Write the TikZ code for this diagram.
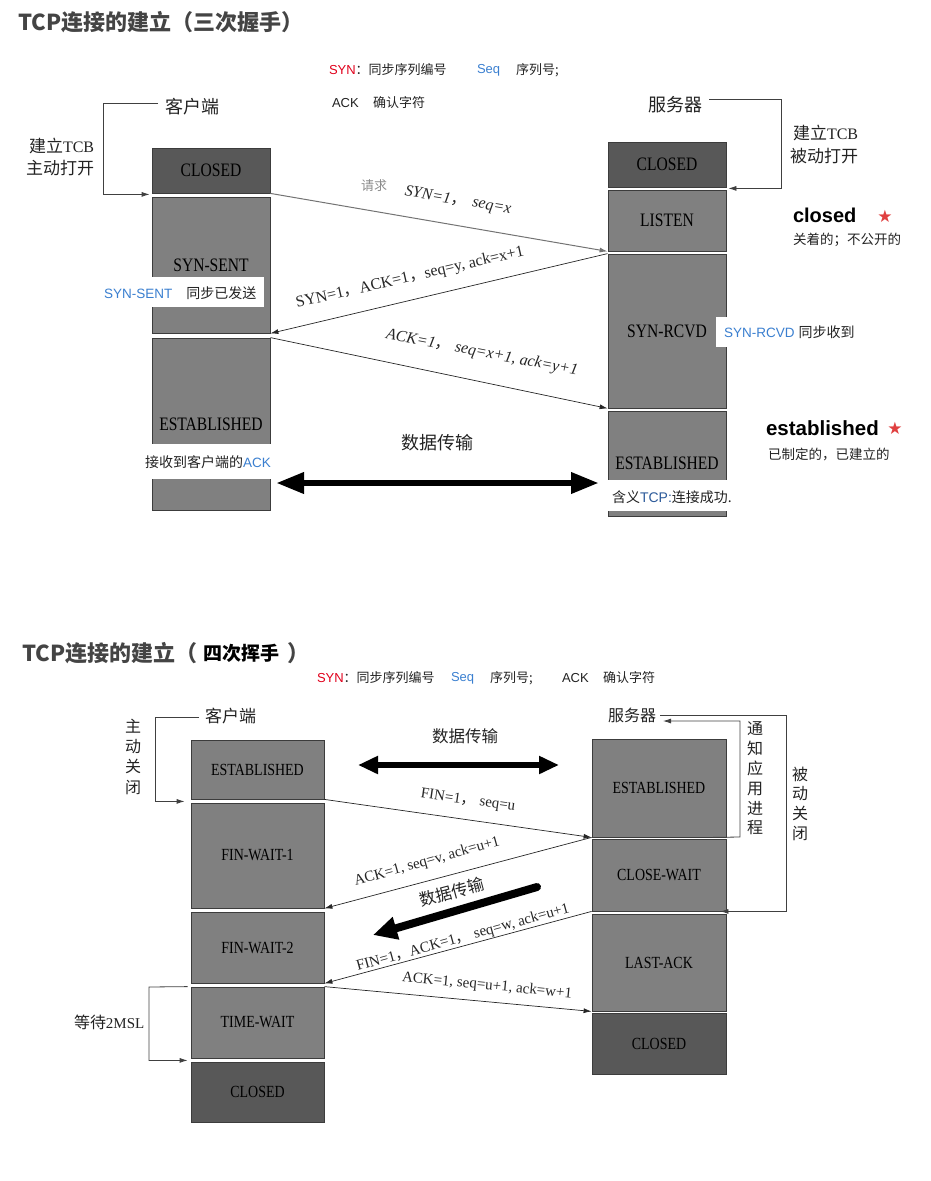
\documentclass[tikz,border=0pt]{standalone}
\usepackage{fontspec}
\setmainfont{Liberation Sans}
\newfontfamily\cjk{Noto Sans CJK SC}
\newfontfamily\boxf[FakeStretch=0.82]{Liberation Serif}
\newfontfamily\lblf{Liberation Serif}
\newfontfamily\symf{DejaVu Sans}
\usetikzlibrary{arrows.meta}
\newcommand{\fsz}[1]{\fontsize{#1}{#1}\selectfont}
\newcommand{\zc}{{\cjk ，}}
\definecolor{midg}{HTML}{808080}
\definecolor{darkg}{HTML}{585858}
\definecolor{edgeg}{HTML}{3C3C3C}
\definecolor{synred}{HTML}{E0001B}
\definecolor{seqblue}{HTML}{3A7FD0}
\definecolor{tcpblue}{HTML}{2C5A9A}
\definecolor{titleg}{HTML}{444444}
\definecolor{txtg}{HTML}{222222}
\definecolor{starred}{HTML}{E04040}
\begin{document}
\begin{tikzpicture}[x=1pt,y=-1pt,
  t/.style={inner sep=0pt, outer sep=0pt},
  cj/.style={t, font=\cjk\fsz{#1}, text=txtg},
  box/.style={draw=edgeg, line width=0.8pt, fill=midg, inner sep=0pt, text=black},
  topbox/.style={box, minimum width=118pt, font=\boxf\fsz{19}},
  botbox/.style={box, minimum width=133pt, font=\boxf\fsz{17}},
  msg/.style={line width=0.7pt, draw=black!85, -{Latex[length=8pt,width=5pt]}},
  brk/.style={line width=0.8pt, draw=black!75},
  brka/.style={brk, -{Latex[length=8pt,width=5pt]}},
  lbl/.style={t, font=\lblf\fsz{#1}, text=black!85},
  fat/.style={line width=#1, draw=black},
]
\useasboundingbox (0,0) rectangle (931,1181);

% ================= TOP: three-way handshake =================
\node[t, anchor=west, font=\cjk\bfseries\fsz{22}, text=titleg] (title1) at (18,22) {TCP连接的建立（三次握手）};

\node[t, anchor=west, font=\fsz{13}] (lgA) at (329,70) {\textcolor{synred}{SYN}{\cjk\color{txtg}：同步序列编号}};
\node[t, anchor=west, font=\fsz{13}, text=seqblue] (lgB) at (477,70) {Seq};
\node[cj=13, anchor=west] (lgC) at (516,70) {序列号;};
\node[t, anchor=west, font=\fsz{13}, text=txtg] (lgD) at (332,103) {ACK};
\node[cj=13, anchor=west] (lgE) at (373,103) {确认字符};

\node[cj=18, anchor=west] (kh1) at (165,107) {客户端};
\node[cj=18, anchor=west] (sv1) at (648,105) {服务器};
\node[t, anchor=west, text=txtg] (tcbL1) at (29,146) {{\cjk\fsz{17}建立}{\lblf\fsz{16}TCB}};
\node[cj=17, anchor=west] (tcbL2) at (26,168) {主动打开};
\node[t, anchor=west, text=txtg] (tcbR1) at (793,133) {{\cjk\fsz{17}建立}{\lblf\fsz{16}TCB}};
\node[cj=17, anchor=west] (tcbR2) at (790,156) {被动打开};

% client column
\node[topbox, fill=darkg, minimum height=45pt] (tc1) at (211,170.5) {CLOSED};
\node[topbox, minimum height=136pt] (tc2) at (211,265) {SYN-SENT};
\node[topbox, minimum height=172pt] (tc3) at (211,424) {ESTABLISHED};
% server column
\node[topbox, fill=darkg, minimum height=45pt] (ts1) at (667,164.5) {CLOSED};
\node[topbox, minimum height=61pt] (ts2) at (667,220.5) {LISTEN};
\node[topbox, minimum height=154pt] (ts3) at (667,331) {SYN-RCVD};
\node[topbox, minimum height=105pt] (ts4) at (667,463.5) {ESTABLISHED};

% brackets
\coordinate (tlb) at (158,103);
\draw[brka] (tlb) -- (103,103) |- ([xshift=-2pt,yshift=-1pt]tc1.south west);
\coordinate (trb) at (709,99);
\draw[brka] (trb) -- (781,99) |- ([xshift=2pt,yshift=-1pt]ts1.south east);

% messages
\draw[msg, draw=black!55, line width=1pt] (tc1.south east) -- (ts2.south west);
\draw[msg] (ts3.north west) -- (tc2.south east);
\draw[msg] (tc3.north east) -- (ts3.south west);

\node[cj=13, text=black!45] (req) at (374,186) {请求};
\node[lbl=16, font=\lblf\itshape\fsz{16}, rotate=-9.5] (m1) at (458,201) {SYN=1\zc\hspace{6pt}seq=x};
\node[lbl=16, rotate=13] (m2) at (410,278) {SYN=1\zc ACK=1\zc seq=y, ack=x+1};
\node[lbl=16, font=\lblf\itshape\fsz{16}, rotate=-11] (m3) at (482,353) {ACK=1\zc\hspace{4pt}seq=x+1, ack=y+1};

% white overlays with notes
\fill[white] (97,277) rectangle (264,307);
\node[t, anchor=west, font=\fsz{13.5}] (nSS) at (104,293) {\textcolor{seqblue}{SYN-SENT}\hspace{14pt}{\cjk\fsz{14}\color{txtg}同步已发送}};
\fill[white] (716,317) rectangle (860,347);
\node[t, anchor=west, font=\fsz{13.5}] (nSR) at (724,332) {\textcolor{seqblue}{SYN-RCVD}\hspace{4pt}{\cjk\fsz{14}\color{txtg}同步收到}};
\fill[white] (140,444) rectangle (271,479);
\node[t, anchor=west] (nACK) at (145,462) {{\cjk\fsz{14}\color{txtg}接收到客户端的}\textcolor{seqblue}{\fsz{13.5}ACK}};
\fill[white] (606,480) rectangle (733,511);
\node[t, anchor=west] (nTCP) at (612,497) {{\cjk\fsz{14}\color{txtg}含义}\textcolor{tcpblue}{\fsz{14}TCP:}{\cjk\fsz{14}\color{txtg}连接成功.}};

% data transfer
\node[cj=18] (dt1) at (437.5,443) {数据传输};
\coordinate (da1) at (276,483);
\coordinate (da2) at (599,483);
\draw[fat=6.5pt, {Triangle[length=28pt,width=20pt]}-{Triangle[length=28pt,width=20pt]}] (da1) -- (da2);

% side notes
\node[t, anchor=west, font=\bfseries\fsz{20}] (wc) at (793,215) {closed};
\node[t, font=\symf\fsz{17}, text=starred] (st1) at (885,216) {★};
\node[cj=13.5, anchor=west] (wc2) at (793,240) {关着的；不公开的};
\node[t, anchor=west, font=\bfseries\fsz{20.5}] (we) at (766,428) {established};
\node[t, font=\symf\fsz{17}, text=starred] (st2) at (895,428) {★};
\node[cj=13.5, anchor=west] (we2) at (768,454) {已制定的，已建立的};

% ================= BOTTOM: four-way wave =================
\node[t, anchor=west, font=\cjk\bfseries\fsz{22}, text=titleg] (title2a) at (22,653) {TCP连接的建立（};
\node[t, anchor=west, font=\cjk\bfseries\fsz{19}, text=black] (title2b) at (203,653) {四次挥手};
\node[t, anchor=west, font=\cjk\bfseries\fsz{22}, text=titleg] (title2c) at (287,653) {）};

\node[t, anchor=west, font=\fsz{13}] (lg2A) at (317,678) {\textcolor{synred}{SYN}{\cjk\color{txtg}：同步序列编号}};
\node[t, anchor=west, font=\fsz{13}, text=seqblue] (lg2B) at (451,678) {Seq};
\node[cj=13, anchor=west] (lg2C) at (490,678) {序列号;};
\node[t, anchor=west, font=\fsz{13}, text=txtg] (lg2D) at (562,678) {ACK};
\node[cj=13, anchor=west] (lg2E) at (603,678) {确认字符};

\node[cj=17, anchor=west] (kh2) at (205,716) {客户端};
\node[cj=16, anchor=west] (sv2) at (608,715) {服务器};

% client column
\node[botbox, minimum height=59pt] (bc1) at (257.5,769.5) {ESTABLISHED};
\node[botbox, minimum height=105pt] (bc2) at (257.5,855.5) {FIN-WAIT-1};
\node[botbox, minimum height=71pt] (bc3) at (257.5,947.5) {FIN-WAIT-2};
\node[botbox, minimum height=71pt] (bc4) at (257.5,1022.5) {TIME-WAIT};
\node[botbox, fill=darkg, minimum height=60pt] (bc5) at (257.5,1092) {CLOSED};
% server column
\node[botbox, minimum width=134pt, minimum height=98pt] (bs1) at (659,788) {ESTABLISHED};
\node[botbox, minimum width=134pt, minimum height=72pt] (bs2) at (659,875) {CLOSE-WAIT};
\node[botbox, minimum width=134pt, minimum height=97pt] (bs3) at (659,962.5) {LAST-ACK};
\node[botbox, minimum width=134pt, fill=darkg, minimum height=61pt] (bs4) at (659,1043.5) {CLOSED};

% vertical texts
\node[t, align=center, font=\cjk\fontsize{16}{20.3}\selectfont, text=txtg] (zd) at (133,756.5) {主\\动\\关\\闭};
\node[t, align=center, font=\cjk\fontsize{16}{19.8}\selectfont, text=txtg] (tz) at (755,778.5) {通\\知\\应\\用\\进\\程};
\node[t, align=center, font=\cjk\fontsize{16}{19.7}\selectfont, text=txtg] (bd) at (800,803.5) {被\\动\\关\\闭};
\node[t, anchor=west, text=txtg] (wait) at (74,1022) {{\cjk\fsz{16}等待}{\lblf\fsz{15}2MSL}};

% brackets
\coordinate (blb) at (199,717);
\draw[brka] (blb) -- (155,717) |- ([xshift=-6pt,yshift=-2pt]bc1.south west);
\draw[brka] ([xshift=-3pt]bc4.north west) -- (149,987) |- ([xshift=-3pt,yshift=-2pt]bc4.south west);
\coordinate (sin) at (663,721);
\draw[brka] ([xshift=-14pt]bs1.south east) -- (740,837) |- (sin);
\coordinate (sout) at (660,715);
\draw[brka] (sout) -- (786,715) |- ([xshift=-6pt]bs2.south east);

% data transfer
\node[cj=16.5] (dt2) at (465,736) {数据传输};
\coordinate (db1) at (358,765);
\coordinate (db2) at (559,765);
\draw[fat=6pt, {Triangle[length=20pt,width=17pt]}-{Triangle[length=20pt,width=17pt]}] (db1) -- (db2);
\coordinate (dc1) at (537,887);
\coordinate (dc2) at (373,935);
\draw[fat=8pt, line cap=round, -{Triangle[length=24pt,width=22pt]}] (dc1) -- (dc2);
\node[cj=16.5, rotate=15] (dt3) at (452,892) {数据传输};

% messages
\draw[msg] (bc1.south east) -- (bs1.south west);
\draw[msg] (bs1.south west) -- (bc2.south east);
\draw[msg] (bs2.south west) -- (bc3.south east);
\draw[msg] (bc4.north east) -- (bs3.south west);

\node[lbl=15, rotate=-8] (f1) at (468,801) {FIN=1\zc\hspace{4pt}seq=u};
\node[lbl=15, rotate=15.5] (f2) at (427,862) {ACK=1, seq=v, ack=u+1};
\node[lbl=15, rotate=15.5] (f3) at (463,938) {FIN=1\zc ACK=1\zc\hspace{4pt}seq=w, ack=u+1};
\node[lbl=15, rotate=-5.5] (f4) at (487,986) {ACK=1, seq=u+1, ack=w+1};
\end{tikzpicture}
\end{document}
